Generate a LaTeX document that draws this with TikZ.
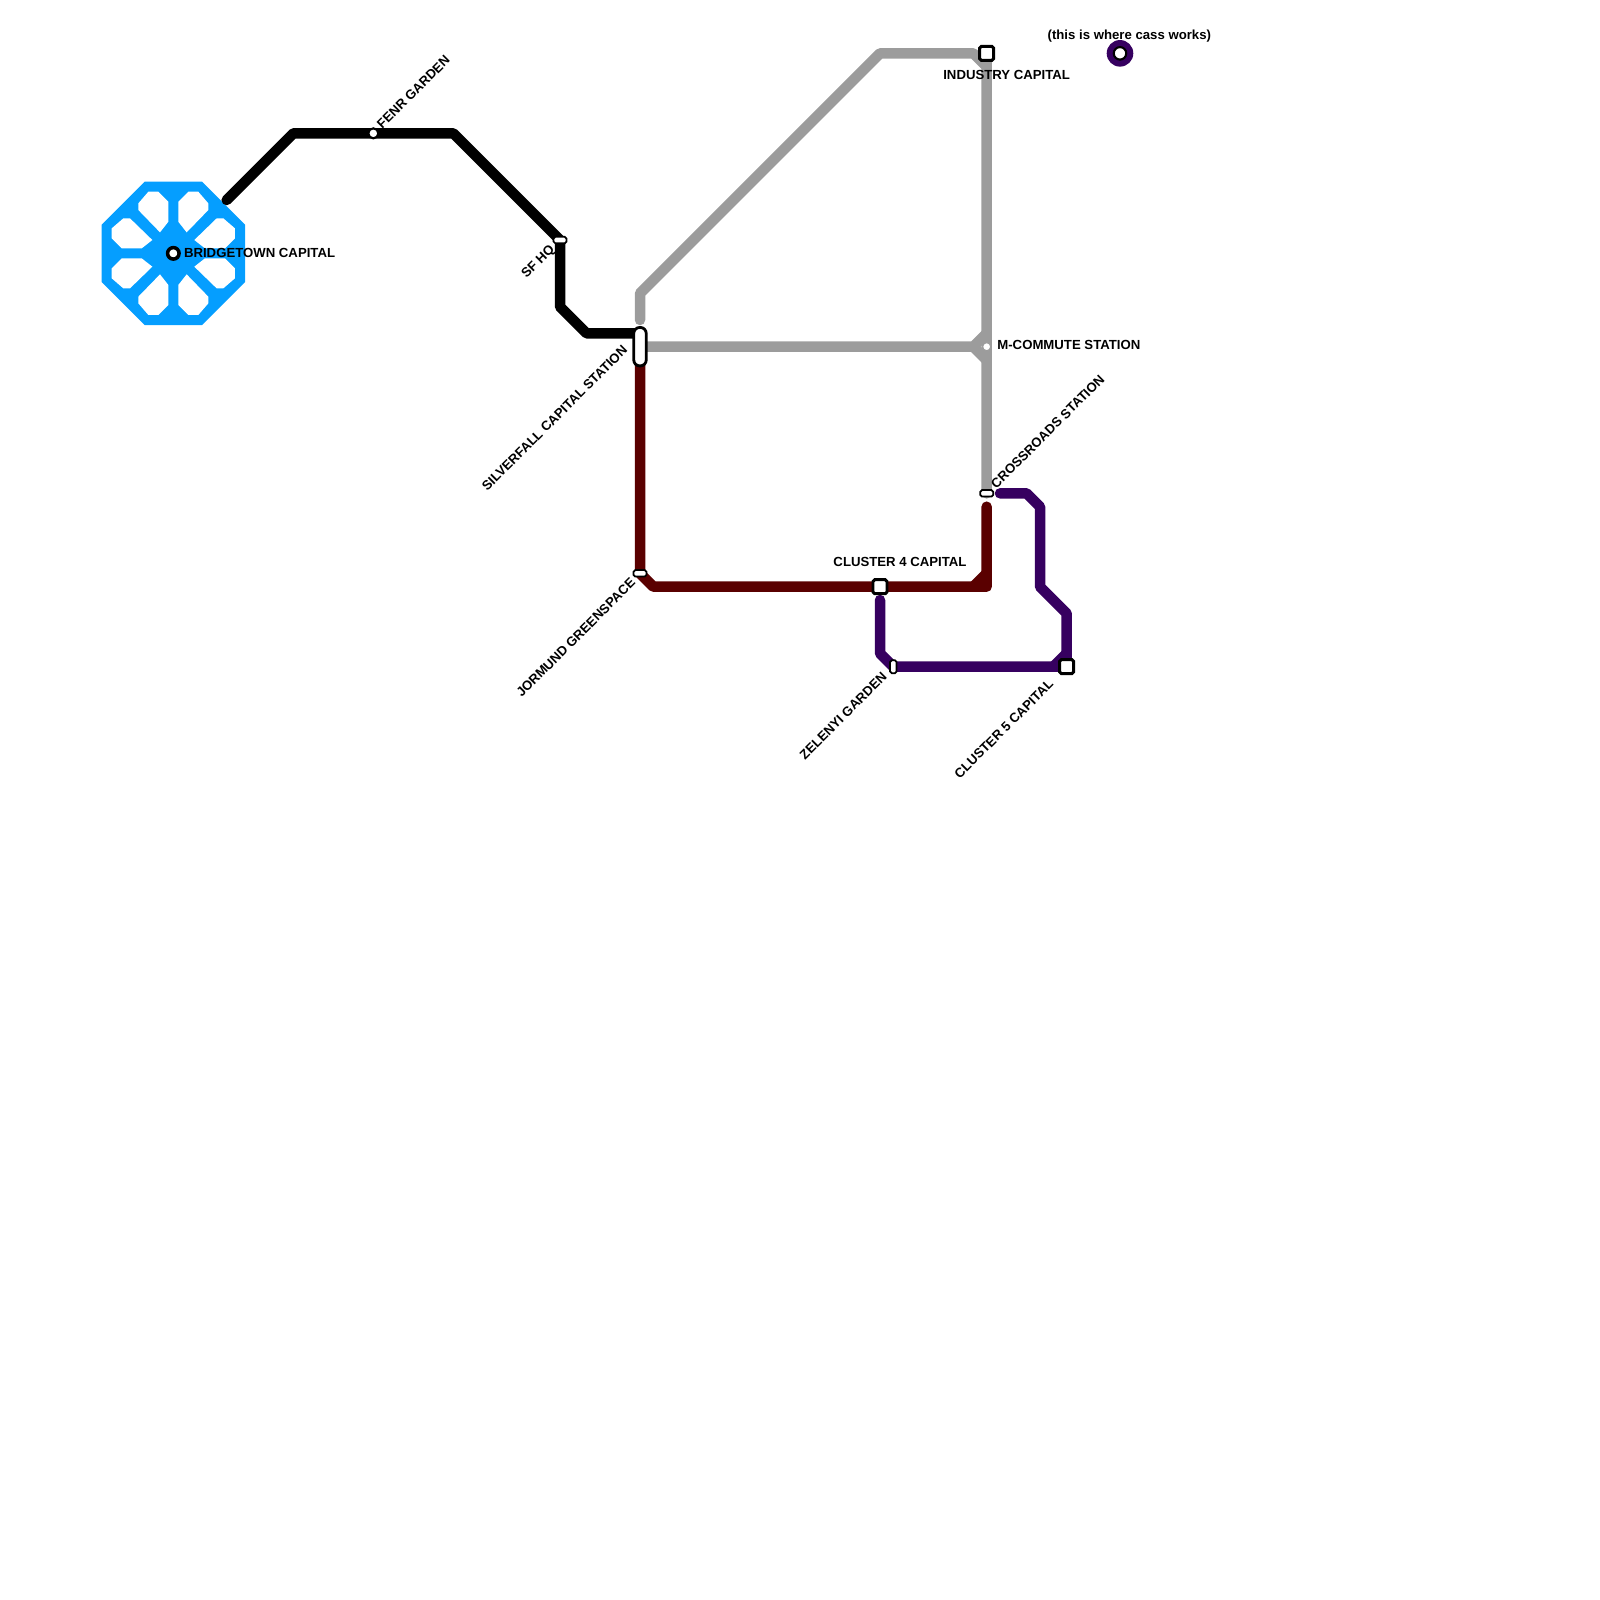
\documentclass[tikz,border=0pt]{standalone}
\usepackage{fontspec}
\setmainfont{Liberation Sans}
\usetikzlibrary{backgrounds}
\definecolor{hubblue}{HTML}{059EFF}
\definecolor{linegray}{HTML}{9C9C9C}
\definecolor{linered}{HTML}{5A0000}
\definecolor{linepurple}{HTML}{360060}

\begin{document}
\begin{tikzpicture}[x=0.13333cm, y=-0.13333cm,
  font=\bfseries\fontsize{3.75pt}{4pt}\selectfont,
  mline/.style={line width=1.05mm, line cap=round, line join=round},
  lbl/.style={inner sep=0pt, text=black},
  dlbl/.style={lbl, rotate=45},
  sq/.style={draw, fill=white, line width=0.85pt, rounded corners=0.5pt, minimum size=1.4mm, inner sep=0pt},
  hpill/.style={draw, fill=white, line width=0.5pt, rounded corners=0.5pt, minimum width=1.3mm, minimum height=0.65mm, inner sep=0pt},
  vpill/.style={hpill, minimum width=0.65mm, minimum height=1.3mm},
  dot/.style={circle, draw, fill=white, inner sep=0pt}]
  \useasboundingbox (0,0) rectangle (120,120);

  % stations
  \node[dot, line width=1pt, minimum size=1.15mm] (bridge) at (13,19) {};
  \node[dot, line width=0.6pt, minimum size=1mm] (fenr) at (28,10) {};
  \node[hpill] (sfhq) at (42,18) {};
  \node[draw, fill=white, line width=0.8pt, rounded corners=0.6mm, minimum width=1.25mm, minimum height=3.85mm, inner sep=0pt] (silver) at (48,26) {};
  \node[hpill] (jormund) at (48,43) {};
  \node[sq] (clfour) at (66,44) {};
  \node[vpill] (zelenyi) at (67,50) {};
  \node[sq] (clfive) at (80,50) {};
  \node[hpill] (cross) at (74,37) {};
  \node[dot, draw=linegray, line width=0.3pt, minimum size=0.8mm] (mcommute) at (74,26) {};
  \node[sq] (industry) at (74,4) {};
  \node[dot, line width=0.6pt, minimum size=1.25mm] (cass) at (84,4) {};

  % labels
  \node[lbl, anchor=west] (lbridge) at (13.75,18.95) {BRIDGETOWN CAPITAL};
  \node[dlbl, anchor=west] (lfenr) at (28.4,9.5) {FENR GARDEN};
  \node[dlbl, anchor=east] (lsfhq) at (41.5,18.55) {SF HQ};
  \node[dlbl, anchor=east] (lsilver) at (46.9,26.05) {SILVERFALL CAPITAL STATION};
  \node[dlbl, anchor=east] (ljormund) at (47.5,43.5) {JORMUND GREENSPACE};
  \node[lbl] (lclfour) at (67.5,42.15) {CLUSTER 4 CAPITAL};
  \node[dlbl, anchor=east] (lzelenyi) at (66.36,50.55) {ZELENYI GARDEN};
  \node[dlbl, anchor=east] (lclfive) at (78.85,51.1) {CLUSTER 5 CAPITAL};
  \node[dlbl, anchor=west] (lcross) at (74.45,36.5) {CROSSROADS STATION};
  \node[lbl, anchor=west] (lmcommute) at (74.75,25.9) {M-COMMUTE STATION};
  \node[lbl] (lindustry) at (75.5,5.62) {INDUSTRY CAPITAL};
  \node[lbl] (lcass) at (84.7,2.7) {(this is where cass works)};

  \begin{pgfonlayer}{background}
    % hub
    \filldraw[hubblue, line width=1mm, miter limit=10] (11,14) -- (15,14) -- (18,17) -- (18,21) -- (15,24) -- (11,24) -- (8,21) -- (8,17) -- cycle;
    \begin{scope}[shift={(13,19)}]
      \foreach \a/\b/\c/\d in {1/0/0/1, -1/0/0/1, 1/0/0/-1, -1/0/0/-1, 0/1/1/0, 0/-1/1/0, 0/1/-1/0, 0/-1/-1/0}
        \fill[white, cm={\a,\b,\c,\d,(0,0)}] (-1.875,-4.62) -- (-1.125,-4.62) -- (-0.375,-3.87) -- (-0.375,-2.37) -- (-1,-1.575) -- (-2.625,-3.25) -- (-2.625,-3.75) -- cycle;
    \end{scope}
    % lines
    \coordinate (hubedge) at (17,15);
    \draw[mline] (hubedge) -- (22,10) -- (fenr.center) -- (34,10) -- (sfhq.center) -- (42,23) -- (44,25) -- (48,25);
    \coordinate (graytop) at (48,24);
    \draw[mline, linegray] (graytop) -- (48,22) -- (66,4) -- (73,4) -- (74,5) -- (mcommute.center) -- (cross.center);
    \draw[mline, linegray] (industry.center) -- (74,5);
    \draw[mline, linegray] (silver.center) -- (73,26) -- (74,25);
    \draw[mline, linegray] (73,26) -- (74,27);
    \draw[mline, linered] (silver.center) -- (jormund.center) -- (49,44) -- (clfour.center) -- (74,44) -- (74,38);
    \draw[mline, linered] (73,44) -- (74,43);
    \coordinate (purpletop) at (66,45);
    \draw[mline, linepurple] (purpletop) -- (66,49) -- (zelenyi.center) -- (clfive.center) -- (80,46) -- (78,44) -- (78,38) -- (77,37) -- (75,37);
    \draw[mline, linepurple] (79,50) -- (80,49);
    \fill[linepurple] (cass) circle (1.33mm);
  \end{pgfonlayer}
\end{tikzpicture}
\end{document}
